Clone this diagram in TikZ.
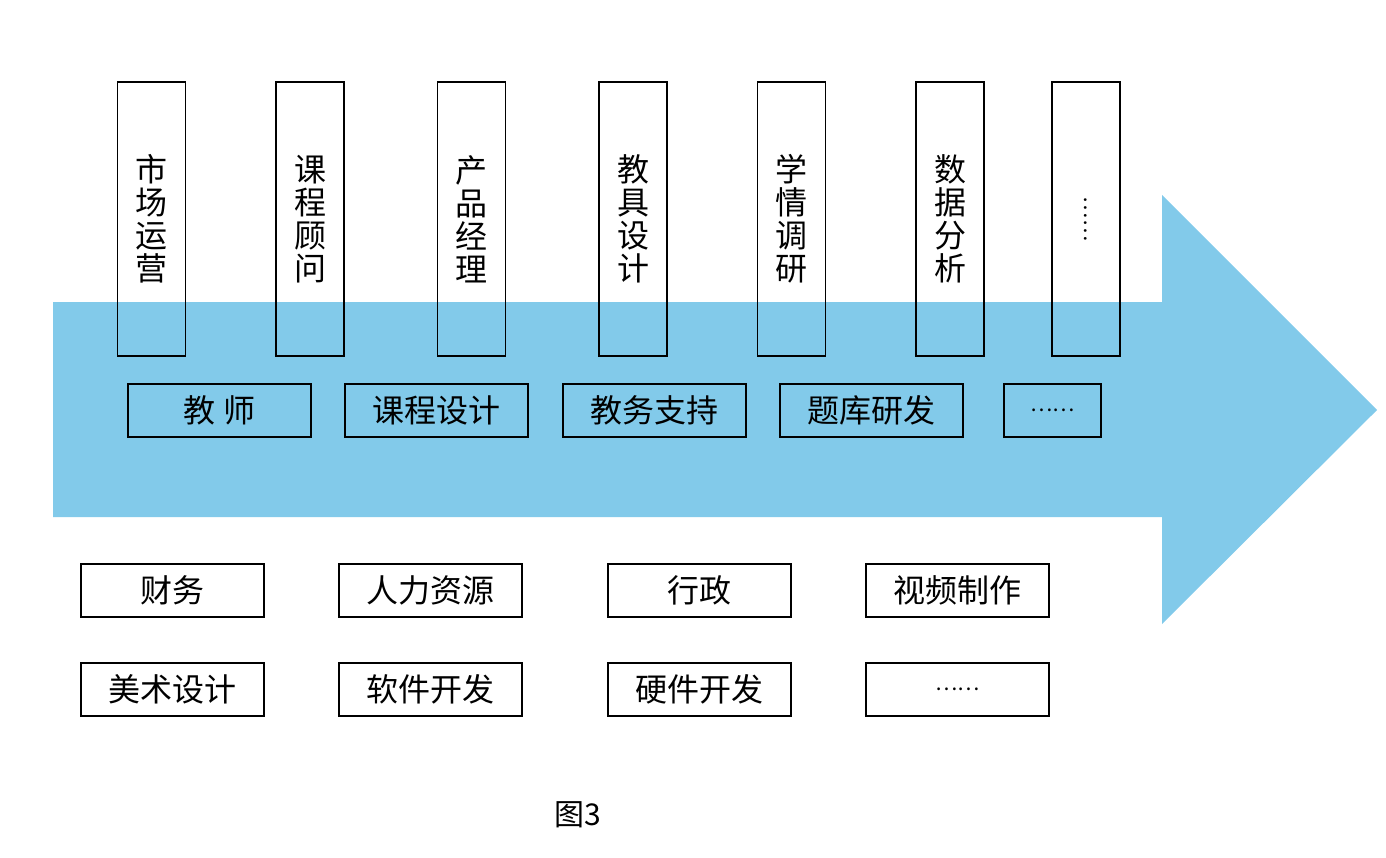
\documentclass[tikz,border=0pt]{standalone}
\usepackage{fontspec}
\setmainfont{Noto Sans CJK SC}
\usetikzlibrary{positioning}
\definecolor{arrowblue}{HTML}{82CAEA}
\newcommand{\moredots}{{\fontsize{10.5}{12}\selectfont ……}}
\tikzset{
  rolebox/.style = {draw, line width=0.55pt, minimum width=34pt, minimum height=137pt, inner sep=0pt, align=center, font=\fontsize{16}{16.5}\selectfont},
  taskbox/.style = {draw, line width=0.55pt, minimum width=91.5pt, minimum height=26.5pt, inner sep=0pt, font=\fontsize{16}{18}\selectfont},
}

\begin{document}
\begin{tikzpicture}[x=0.5pt,y=-0.5pt]
\useasboundingbox (0,0) rectangle (1386,857);
\fill[arrowblue] (53,302) -- (1162,302) -- (1162,195) -- (1377,410) -- (1162,624) -- (1162,517) -- (53,517) -- cycle;

\node[rolebox] (shichang) at (151.5,219) {市\\场\\运\\营};
\node[rolebox] (guwen)    at (310,219)   {课\\程\\顾\\问};
\node[rolebox] (chanpin)  at (471.5,219) {产\\品\\经\\理};
\node[rolebox] (jiaoju)   at (633,219)   {教\\具\\设\\计};
\node[rolebox] (xueqing)  at (791.5,219) {学\\情\\调\\研};
\node[rolebox] (shuju)    at (950,219)   {数\\据\\分\\析};
\node[rolebox] (moreA)    at (1086,219)  {\rotatebox{-90}{\moredots}};

\node[taskbox] (jiaoshi)  at (219.5,410.5) {教\ 师};
\node[taskbox] (kecheng)  at (436.5,410.5) {课程设计};
\node[taskbox] (jiaowu)   at (654.5,410.5) {教务支持};
\node[taskbox] (tiku)     at (871.5,410.5) {题库研发};
\node[taskbox, minimum width=48.5pt] (moreB) at (1052.5,410.5) {\moredots};

\node[taskbox] (caiwu)    at (172.5,590.5) {财务};
\node[taskbox] (renli)    at (430.5,590.5) {人力资源};
\node[taskbox] (xingzheng) at (699.5,590.5) {行政};
\node[taskbox] (shipin)   at (957.5,590.5) {视频制作};
\node[taskbox] (meishu)   at (172.5,689.5) {美术设计};
\node[taskbox] (ruanjian) at (430.5,689.5) {软件开发};
\node[taskbox] (yingjian) at (699.5,689.5) {硬件开发};
\node[taskbox] (moreC)    at (957.5,689.5) {\moredots};

\node[font=\fontsize{15}{18}\selectfont] (caption) at (578,815) {图3};
\end{tikzpicture}
\end{document}
